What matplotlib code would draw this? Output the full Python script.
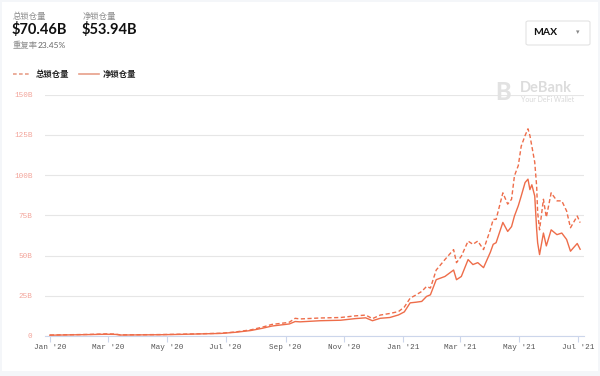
import matplotlib
matplotlib.use("Agg")
import matplotlib.pyplot as plt
from matplotlib.patches import FancyBboxPatch, Rectangle
import pandas as pd

plt.rcParams['font.family'] = ['Lato', 'Noto Sans CJK SC', 'DejaVu Sans']

# ---- data (billions USD) ----
dates = ["2020-01-01", "2020-01-22", "2020-02-12", "2020-02-28", "2020-03-09", "2020-03-14",
         "2020-04-04", "2020-04-25", "2020-05-15", "2020-06-05", "2020-06-26", "2020-07-11",
         "2020-07-27", "2020-08-08", "2020-08-18", "2020-09-01", "2020-09-05", "2020-09-11",
         "2020-09-16", "2020-10-07", "2020-10-28", "2020-11-12", "2020-11-23", "2020-11-30",
         "2020-12-08", "2020-12-18", "2020-12-27", "2021-01-02", "2021-01-08", "2021-01-14",
         "2021-01-20", "2021-01-25", "2021-01-29", "2021-02-04", "2021-02-13", "2021-02-22",
         "2021-02-25", "2021-03-02", "2021-03-09", "2021-03-14", "2021-03-19", "2021-03-25",
         "2021-04-01", "2021-04-04", "2021-04-07", "2021-04-14", "2021-04-19", "2021-04-23",
         "2021-04-26", "2021-04-30", "2021-05-03", "2021-05-07", "2021-05-10", "2021-05-12",
         "2021-05-14", "2021-05-17", "2021-05-19", "2021-05-20", "2021-05-22", "2021-05-26",
         "2021-05-29", "2021-06-03", "2021-06-09", "2021-06-14", "2021-06-19", "2021-06-23",
         "2021-06-26", "2021-06-30", "2021-07-03"]
total_tvl = [0.6, 0.8, 1.0, 1.3, 1.2, 0.7,
             0.8, 0.9, 1.1, 1.4, 1.7, 2.5,
             3.8, 5.5, 7.2, 8.2, 8.6, 11.0,
             10.6, 11.2, 11.5, 12.5, 13.0, 10.8,
             13.0, 14.0, 15.2, 18.0, 23.5, 25.5,
             27.7, 30.8, 29.8, 41.0, 47.5, 53.7,
             45.6, 49.6, 59.0, 57.0, 59.0, 53.7,
             66.0, 72.5, 72.5, 89.0, 82.0, 85.0,
             99.6, 106.0, 118.0, 124.6, 128.8, 124.6,
             118.0, 108.0, 93.0, 77.0, 66.0, 85.0,
             73.8, 89.0, 84.0, 84.0, 77.7, 67.3,
             70.4, 74.6, 70.46]
net_tvl = [0.5, 0.7, 0.9, 1.1, 1.0, 0.6,
           0.7, 0.8, 1.0, 1.3, 1.6, 2.3,
           3.4, 4.8, 6.2, 7.2, 7.5, 9.0,
           8.8, 9.5, 9.8, 10.8, 11.3, 9.5,
           11.0, 11.5, 13.1, 15.0, 20.6, 21.0,
           21.5, 24.6, 25.6, 35.0, 37.0, 41.0,
           35.0, 37.0, 47.5, 44.4, 45.6, 42.5,
           52.0, 57.0, 58.0, 70.6, 65.0, 68.0,
           74.6, 81.0, 87.0, 95.4, 97.5, 91.0,
           94.0, 87.0, 66.0, 58.0, 50.6, 64.0,
           56.0, 66.0, 63.0, 64.0, 60.0, 52.7,
           54.8, 57.5, 53.94]
yticks = [0, 25, 50, 75, 100, 125, 150]
ytick_labels = ["0", "25B", "50B", "75B", "100B", "125B", "150B"]
xtick_dates = ["2020-01-01", "2020-03-01", "2020-05-01", "2020-07-01", "2020-09-01",
               "2020-11-01", "2021-01-01", "2021-03-01", "2021-05-01", "2021-07-01"]
xtick_labels = ["Jan '20", "Mar '20", "May '20", "Jul '20", "Sep '20",
                "Nov '20", "Jan '21", "Mar '21", "May '21", "Jul '21"]

W, H = 600, 376
fig = plt.figure(figsize=(W / 100, H / 100), dpi=100)
fig.patch.set_facecolor("#f4f6f9")

def P(x, y):
    return (x / W, 1 - y / H)

# white card
fig.patches.append(Rectangle(P(2, 371), 596 / W, 369 / H, transform=fig.transFigure,
                             facecolor="white", edgecolor="none", zorder=-5))

LINE = "#ee6d4a"

ax = fig.add_axes([45 / W, 1 - 336 / H, (584 - 45) / W, (336 - 94.7) / H], zorder=2)
ax.set_facecolor("none")
x = pd.to_datetime(dates)
ax.plot(x, total_tvl, color=LINE, lw=1.0, linestyle=(0, (3, 1.8)), zorder=3)
ax.plot(x, net_tvl, color=LINE, lw=1.0, zorder=3)

ax.set_xlim(pd.Timestamp("2019-12-27"), pd.Timestamp("2021-07-07"))
ax.set_ylim(0, 150)
ax.set_yticks(yticks)
ax.set_yticklabels(ytick_labels, family="Liberation Mono", fontsize=5.5, color="#f3a49a")
ax.grid(axis="y", color="#e6e6e6", lw=0.8)
ax.set_axisbelow(True)
ax.tick_params(axis="y", length=0, pad=9)
ax.set_xticks(pd.to_datetime(xtick_dates))
ax.set_xticklabels(xtick_labels, family="Liberation Mono", fontsize=5.5, color="#555555")
ax.tick_params(axis="x", length=4, color="#ccd6eb", width=0.8, pad=2)
for s in ["top", "right", "left"]:
    ax.spines[s].set_visible(False)
ax.spines["bottom"].set_color("#ccd6eb")
ax.spines["bottom"].set_linewidth(0.8)

# header
gray = "#8c8c8c"
cjk = ['Noto Sans CJK SC', 'DejaVu Sans']
fig.text(*P(13, 17), "总锁仓量", family=cjk, fontsize=6, color=gray, va="center")
fig.text(*P(83, 17), "净锁仓量", family=cjk, fontsize=6, color=gray, va="center")
fig.text(*P(12, 30), "$70.46B", family="Lato", fontsize=10.5, weight="bold",
         color="#111111", va="center")
fig.text(*P(82, 30), "$53.94B", family="Lato", fontsize=10.5, weight="bold",
         color="#111111", va="center")
fig.text(*P(13, 45), "重复率", family=cjk, fontsize=6, color=gray, va="center")
fig.text(*P(38, 45), "23.45%", family="Lato", fontsize=6, color="#666666", va="center")

# legend
fig.lines.append(plt.Line2D([13 / W, 30 / W], [1 - 74 / H] * 2, transform=fig.transFigure,
                            color="#e8a08a", lw=1.2, linestyle=(0, (2.2, 1.4))))
fig.text(*P(36, 74), "总锁仓量", family=cjk, fontsize=6, color="#222222", va="center",
         weight="bold")
fig.lines.append(plt.Line2D([79 / W, 99 / W], [1 - 74 / H] * 2, transform=fig.transFigure,
                            color="#e8a08a", lw=1.2))
fig.text(*P(103, 74), "净锁仓量", family=cjk, fontsize=6, color="#222222", va="center",
         weight="bold")

# MAX dropdown
box = FancyBboxPatch(P(526, 45), 64 / W, 24 / H, transform=fig.transFigure,
                     boxstyle="round,pad=0,rounding_size=0.004", facecolor="white",
                     edgecolor="#e3e3e3", lw=0.8)
fig.patches.append(box)
fig.text(*P(533, 32.5), "MAX", family="Lato", fontsize=7.5, weight="bold",
         color="#111111", va="center")
fig.text(*P(578, 32.5), "▾", family="DejaVu Sans", fontsize=5, color="#888888",
         va="center", ha="center")

# DeBank watermark
fig.text(*P(503, 92), "B", family="Lato", fontsize=17, weight="black", color="#e2e2e2",
         va="center", ha="center")
fig.text(*P(520, 88), "DeBank", family="Lato", fontsize=10.5, weight="bold",
         color="#dcdcdc", va="center")
fig.text(*P(521, 99), "Your DeFi Wallet", family="Lato", fontsize=5, color="#d8d8d8",
         va="center")

fig.savefig("out.png", dpi=100, facecolor=fig.get_facecolor())
